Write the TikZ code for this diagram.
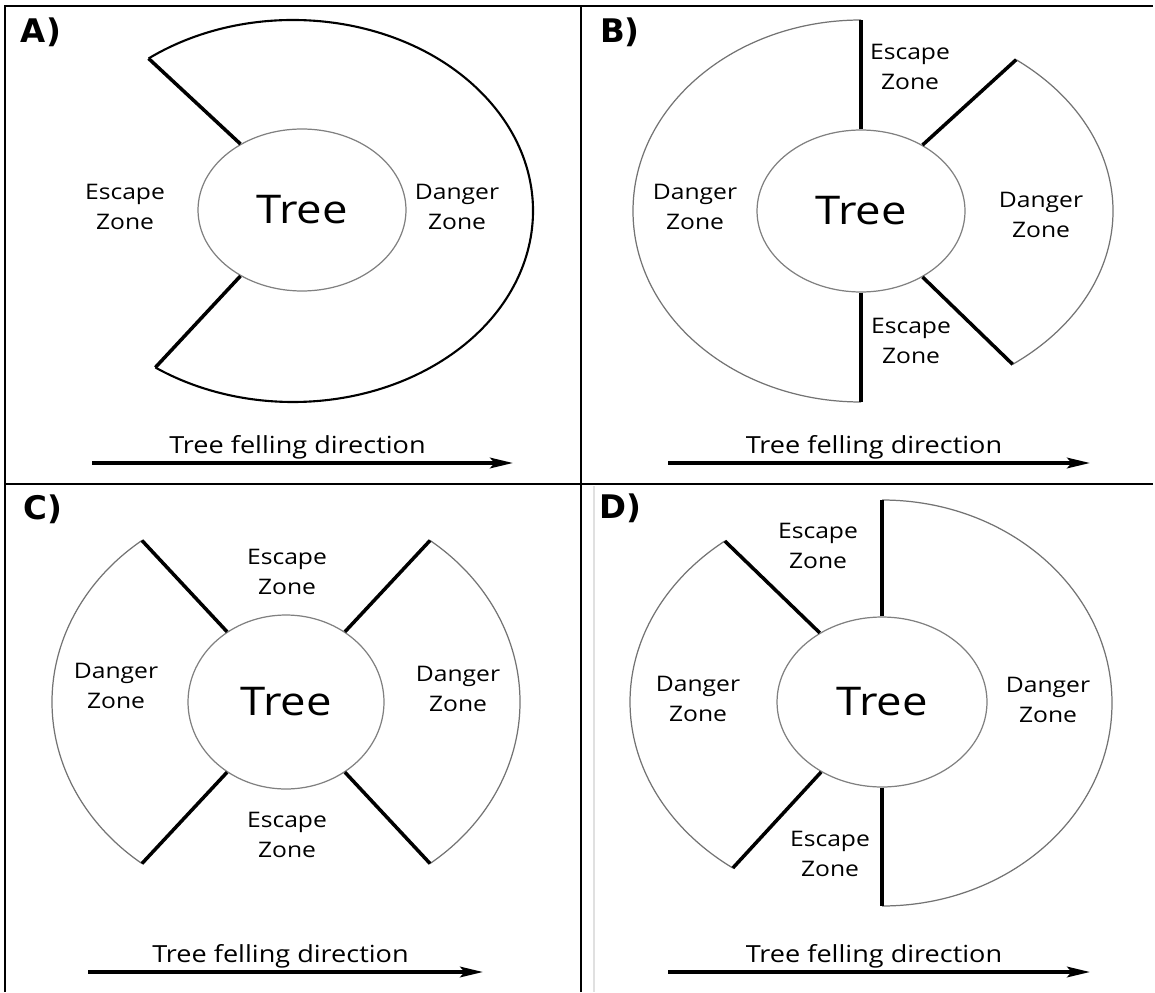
\documentclass[tikz,border=0pt]{standalone}
\usepackage{fontspec}
\setmainfont{Open Sans}[FakeStretch=1.15]
\newfontfamily\panelfont{DejaVu Sans}
\usetikzlibrary{arrows.meta,calc,shapes.geometric}
\tikzset{
  zone/.style={align=center,font=\fontsize{12.2}{17}\selectfont},
  falltext/.style={anchor=base,font=\fontsize{13.4}{16}\selectfont},
  panel/.style={font=\panelfont\bfseries\fontsize{18.5}{18}\selectfont},
  treenode/.style={ellipse,draw=black!50,line width=0.7pt,inner sep=0pt,
    font=\fontsize{22.5}{22}\selectfont},
  cut/.style={line width=2pt},
  rim/.style={draw=black!55,line width=0.7pt},
  rimdark/.style={draw=black,line width=1.2pt},
  frame/.style={line width=1.2pt},
  fall/.style={line width=2pt,-{Stealth[length=13pt,width=6pt,inset=2.5pt]}},
}
\begin{document}
\begin{tikzpicture}[x=0.02cm,y=0.02cm]
  \useasboundingbox (0,0) rectangle (1155,992);
  % grid of the four panels
  \draw[frame] (5,0) -- (5,986) -- (1153,986);
  \draw[frame] (5,508) -- (1153,508);
  \draw[frame] (581,0) -- (581,986);
  \draw[black!12,line width=0.6pt] (594,0) -- (594,506);
  \foreach \p/\x/\y in {A/41/960,B/620/960,C/43/483,D/620/484}
    \node[panel] (lab\p) at (\x,\y) {\p)};
  \foreach \p/\x/\y/\w in {A/92/529/421,B/668/529/422,C/88/20/395,D/668/20/422}{
    \coordinate (fall\p0) at (\x,\y);
    \coordinate (fall\p1) at (\x+\w,\y);
    \draw[fall] (fall\p0) -- (fall\p1);
    \node[falltext] (fallt\p) at (\x+\w/2-5,\y+10) {Tree felling direction};
  }

  % A) one danger zone wrapping round, escape behind
  \node[treenode,minimum width=4.16cm,minimum height=3.24cm] (treeA) at (302,782) {Tree};
  \coordinate (outA) at (293,781);
  \coordinate (cutAup) at ($(outA)+(127:240 and 191)$);
  \coordinate (cutAlo) at ($(outA)+(-125:240 and 191)$);
  \draw[rimdark] (cutAup) arc[start angle=127,end angle=-125,x radius=240,y radius=191];
  \draw[cut] (treeA.133) -- (cutAup);
  \draw[cut] (treeA.227) -- (cutAlo);
  \node[zone] (escA) at (125,785) {Escape\\Zone};
  \node[zone] (dngA) at (457,785) {Danger\\Zone};

  % B)
  \node[treenode,minimum width=4.16cm,minimum height=3.24cm] (treeB) at (861,781) {Tree};
  \coordinate (escBup) at (861,972);
  \coordinate (escBlo) at (861,590);
  \draw[rim] (escBup) arc[start angle=90,end angle=270,x radius=228,y radius=191];
  \draw[cut] (treeB.north) -- (escBup);
  \draw[cut] (treeB.south) -- (escBlo);
  \coordinate (cutBup) at ($(treeB.center)+(52:252 and 192)$);
  \coordinate (cutBlo) at ($(treeB.center)+(-53:252 and 192)$);
  \draw[rim] (cutBup) arc[start angle=52,end angle=-53,x radius=252,y radius=192];
  \draw[cut] (treeB.47) -- (cutBup);
  \draw[cut] (treeB.313) -- (cutBlo);
  \node[zone] (escBt) at (910,925) {Escape\\Zone};
  \node[zone] (escBb) at (911,651) {Escape\\Zone};
  \node[zone] (dngBl) at (695,785) {Danger\\Zone};
  \node[zone] (dngBr) at (1041,777) {Danger\\Zone};

  % C)
  \node[treenode,minimum width=3.92cm,minimum height=3.48cm] (treeC) at (286,290) {Tree};
  \coordinate (cutCul) at ($(treeC.center)+(128:234 and 205)$);
  \coordinate (cutCll) at ($(treeC.center)+(232:234 and 205)$);
  \coordinate (cutCur) at ($(treeC.center)+(52:234 and 205)$);
  \coordinate (cutClr) at ($(treeC.center)+(-52:234 and 205)$);
  \draw[rim] (cutCul) arc[start angle=128,end angle=232,x radius=234,y radius=205];
  \draw[rim] (cutCur) arc[start angle=52,end angle=-52,x radius=234,y radius=205];
  \draw[cut] (treeC.130) -- (cutCul);
  \draw[cut] (treeC.230) -- (cutCll);
  \draw[cut] (treeC.50) -- (cutCur);
  \draw[cut] (treeC.310) -- (cutClr);
  \node[zone] (escCt) at (287,420) {Escape\\Zone};
  \node[zone] (escCb) at (287,157) {Escape\\Zone};
  \node[zone] (dngCl) at (116,306) {Danger\\Zone};
  \node[zone] (dngCr) at (458,303) {Danger\\Zone};

  % D)
  \node[treenode,minimum width=4.2cm,minimum height=3.4cm] (treeD) at (882,290) {Tree};
  \coordinate (escDup) at (882,492);
  \coordinate (escDlo) at (882,86);
  \draw[rim] (escDup) arc[start angle=90,end angle=-90,x radius=230,y radius=203];
  \draw[cut] (treeD.north) -- (escDup);
  \draw[cut] (treeD.south) -- (escDlo);
  \coordinate (cutDup) at ($(treeD.center)+(128.6:252 and 206)$);
  \coordinate (cutDlo) at ($(treeD.center)+(233.7:252 and 206)$);
  \draw[rim] (cutDup) arc[start angle=128.6,end angle=233.7,x radius=252,y radius=206];
  \draw[cut] (treeD.132) -- (cutDup);
  \draw[cut] (treeD.229) -- (cutDlo);
  \node[zone] (escDt) at (818,446) {Escape\\Zone};
  \node[zone] (escDb) at (830,138) {Escape\\Zone};
  \node[zone] (dngDl) at (698,293) {Danger\\Zone};
  \node[zone] (dngDr) at (1048,292) {Danger\\Zone};
\end{tikzpicture}
\end{document}
